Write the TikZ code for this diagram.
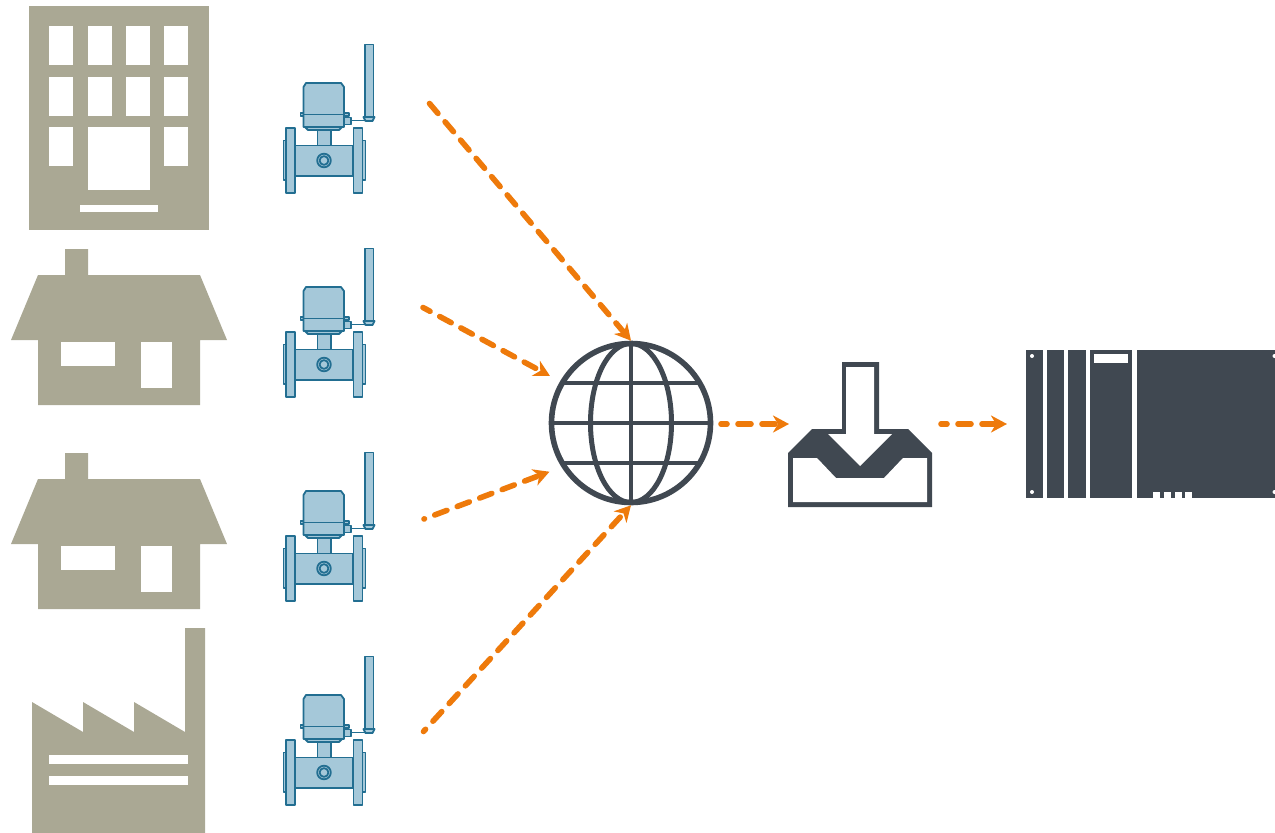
\documentclass[tikz,border=0pt]{standalone}
\usepackage{tikz}
\usetikzlibrary{shapes, arrows.meta, positioning, calc}
\definecolor{sitegrey}{RGB}{170, 168, 148}
\definecolor{slatedark}{RGB}{64, 72, 81}
\definecolor{meterblue}{RGB}{165, 200, 217}
\definecolor{meterline}{RGB}{34, 110, 145}
\definecolor{floworange}{RGB}{238, 122, 11}

\begin{document}
\begin{tikzpicture}[
  x=1pt, y=-1pt,
  site/.style={fill=sitegrey, draw=none},
  hole/.style={fill=white, draw=none},
  slate/.style={fill=slatedark, draw=none},
  mpart/.style={fill=meterblue, draw=meterline, line width=1.8pt, line join=round},
  flow/.style={draw=floworange, line width=5.6pt, line cap=round, dash pattern=on 13pt off 11pt, -{Stealth[length=16pt, width=17pt, inset=5pt]}},
  anchorbox/.style={draw=none, inner sep=0pt, outer sep=0pt},
  meter/.pic={
    \draw[mpart] (365,44.5) rectangle (373.5,117);
    \draw[mpart] (363.5,117) -- (374.5,117) -- (372.5,121) -- (365.5,121) -- cycle;
    \draw[meterline, line width=0.9pt] (351,120.5) -- (367,120.5);
    \draw[mpart] (317.5,128) rectangle (331,146);
    \draw[mpart] (305,127) -- (342,127) -- (339,130) -- (308,130) -- cycle;
    \draw[mpart] (300.5,113) rectangle (304,116);
    \draw[mpart] (343,113) rectangle (349,116);
    \draw[mpart] (344,117.5) rectangle (351,124.5);
    \draw[mpart] (306,83) -- (341,83) -- (344,87) -- (344,127) -- (303.5,127) -- (303.5,87) -- cycle;
    \draw[meterline, line width=0.7pt] (303.5,114.5) -- (344,114.5);
    \draw[mpart] (295,145.5) rectangle (353,176);
    \draw[mpart] (283.5,140.5) rectangle (286.5,180);
    \draw[mpart] (362.5,140.5) rectangle (365.5,180);
    \draw[mpart] (286,128) rectangle (295,193);
    \draw[mpart] (353.5,128) rectangle (362.5,193);
    \draw[mpart] (324,160.5) circle (6.8);
    \draw[mpart] (324,160.5) circle (4.4);
  },
  house/.pic={
    \fill[site] (11,340) -- (38,275) -- (65,275) -- (65,249) -- (88,249) -- (88,275) -- (200,275) -- (227,340) -- (200,340) -- (200,405) -- (38,405) -- (38,340) -- cycle;
    \fill[hole] (61,342) rectangle (115,366);
    \fill[hole] (141,342) rectangle (172,388);
  }
]
  \useasboundingbox (0,0) rectangle (1275,833);

  \fill[site] (29,6) rectangle (209,230);
  \foreach \wx in {49,88,126,164} {
    \fill[hole] (\wx,26) rectangle +(24,39);
    \fill[hole] (\wx,77) rectangle +(24,39);
  }
  \fill[hole] (49,127) rectangle +(24,39);
  \fill[hole] (164,127) rectangle +(24,39);
  \fill[hole] (88,127) rectangle (150,190);
  \fill[hole] (80,205) rectangle (158,212);

  \pic at (0,0) {house};
  \pic at (0,204) {house};

  \fill[site] (32,833) -- (32,702) -- (83,732) -- (83,702) -- (134,732) -- (134,702) -- (185,732) -- (185,628) -- (205,628) -- (205,833) -- cycle;
  \fill[hole] (49,755) rectangle (188,764);
  \fill[hole] (49,776) rectangle (188,785);

  \foreach \row in {0,1,2,3} {
    \pic at (0,204*\row) {meter};
  }

  \node[circle, draw=slatedark, line width=5.6pt, inner sep=0pt, outer sep=2.8pt, minimum size=159pt] (globe) at (631,423) {};
  \draw[slatedark, line width=4.8pt] (globe.north) -- (globe.south);
  \draw[slatedark, line width=4.8pt] (globe.west) -- (globe.east);
  \draw[slatedark, line width=5pt] (globe.center) ellipse (40.5 and 79.5);
  \draw[slatedark, line width=4.8pt] (562,383) -- (700,383);
  \draw[slatedark, line width=4.8pt] (562,463) -- (700,463);

  \node[anchorbox, minimum width=144pt, minimum height=145pt] (tray) at (860,434.5) {};
  \fill[slate] (788,453) -- (812,429) -- (842,429) -- (842,362) -- (879,362) -- (879,429) -- (908,429) -- (932,453) -- (932,507) -- (788,507) -- cycle;
  \fill[hole] (846,367) -- (874,367) -- (874,434) -- (892,434) -- (860,466) -- (828,434) -- (846,434) -- cycle;
  \fill[hole] (793,458) -- (817,458) -- (836,478) -- (884,478) -- (903,458) -- (927,458) -- (927,502) -- (793,502) -- cycle;

  \node[anchorbox, minimum width=249pt, minimum height=148pt] (controller) at (1150.5,424) {};
  \fill[slate] (1026,350) rectangle (1043,498);
  \fill[slate] (1047,350) rectangle (1064,498);
  \fill[slate] (1068,350) rectangle (1086,498);
  \fill[slate] (1090,350) rectangle (1132,498);
  \fill[slate] (1137,350) rectangle (1275,498);
  \fill[hole] (1094,354) rectangle (1128,363);
  \foreach \dotx/\doty in {1032/356, 1032/492, 1274.5/356, 1274.5/492} {
    \fill[hole] (\dotx,\doty) circle (2);
  }
  \foreach \notchx in {1153,1164,1175,1185} {
    \fill[hole] (\notchx,492) rectangle +(7,6);
  }

  \coordinate (out1) at (429.5,103.5);
  \coordinate (out2) at (423,307.5);
  \coordinate (out3) at (424,519);
  \coordinate (out4) at (423.5,731.5);
  \coordinate (in2) at (550,376);
  \coordinate (in3) at (549.5,471.7);
  \coordinate (globeout) at (721,424);
  \coordinate (trayin) at (789,424);
  \coordinate (trayout) at (941,424);
  \coordinate (ctrlin) at (1007,424);

  \draw[flow] (out1) -- (globe.north);
  \draw[flow, dash phase=5pt] (out2) -- (in2);
  \draw[flow, dash phase=12.5pt] (out3) -- (in3);
  \draw[flow, dash phase=10pt] (out4) -- (globe.south);
  \draw[flow, dash phase=7pt] (globeout) -- (trayin);
  \draw[flow, dash phase=7pt] (trayout) -- (ctrlin);
\end{tikzpicture}
\end{document}
